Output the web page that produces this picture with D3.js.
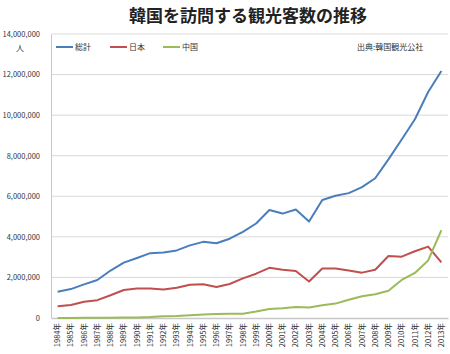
<!DOCTYPE html>
<html>
<head>
<meta charset="utf-8">
<script src="https://cdn.jsdelivr.net/npm/d3@7"></script>
<style>
  body { margin: 0; background: #fff; }
  text { font-family: "Noto Sans CJK JP", "Noto Sans", sans-serif; }
</style>
</head>
<body>
<svg id="chart"></svg>
<script>
let w = 450;
let h = 354;

const years = d3.range(1984, 2014).map(y => y + '年');
const seriesNames = ['総計', '日本', '中国'];
const seriesColors = ['#4a7ebb', '#c0504d', '#9bbb59'];

const total = [1297318, 1426045, 1659972, 1874856, 2340462, 2728054, 2958839, 3196340, 3231081, 3331226,
    3580024, 3753197, 3683779, 3908140, 4250216, 4659785, 5321792, 5147204, 5347468, 4752762,
    5818138, 6022752, 6155046, 6448240, 6890841, 7817533, 8797658, 9794796, 11140028, 12175550];
const japan = [580000, 640000, 800000, 880000, 1120000, 1380000, 1460000, 1455000, 1400000, 1490000,
    1640000, 1667000, 1526000, 1676000, 1954000, 2184000, 2472000, 2377000, 2321000, 1802000,
    2443000, 2440000, 2339000, 2236000, 2378000, 3053000, 3023000, 3289000, 3519000, 2747000];
const china = [5000, 6000, 8000, 10000, 15000, 20000, 30000, 50000, 87000, 100000,
    140000, 178000, 199000, 214000, 211000, 316000, 443000, 483000, 539000, 513000,
    627000, 710000, 897000, 1069000, 1168000, 1342000, 1876000, 2220000, 2837000, 4327000];

const yTicks = d3.range(0, 14000001, 2000000);

const svg = d3.select('#chart')
    .attr('width', w)
    .attr('height', h);

const xScale = d3.scaleBand()
    .domain(years)
    .range([51, 448]);

const yScale = d3.scaleLinear()
    .domain([0, 14000000])
    .range([318, 34]);

// gridlines
svg.append('g')
    .selectAll('line')
    .data(yTicks.slice(1))
    .join('line')
    .attr('x1', 51)
    .attr('x2', 448)
    .attr('y1', d => yScale(d))
    .attr('y2', d => yScale(d))
    .attr('stroke', '#d9d9d9')
    .attr('stroke-width', 1);

// y axis
const yAxis = d3.axisLeft(yScale)
    .tickValues(yTicks)
    .tickFormat(d3.format(','))
    .tickSize(0)
    .tickPadding(11);

const yAxisGroup = svg.append('g')
    .attr('transform', 'translate(51,0)')
    .call(yAxis);
yAxisGroup.select('.domain').attr('stroke', '#c8c8c8');
yAxisGroup.selectAll('text')
    .attr('font-size', 7.5)
    .attr('fill', '#333');

// x axis
const xAxis = d3.axisBottom(xScale).tickSize(0).tickPadding(0);
const xAxisGroup = svg.append('g')
    .attr('transform', 'translate(0,318)')
    .call(xAxis);
xAxisGroup.select('.domain').attr('stroke', '#c8c8c8').attr('stroke-width', 1.5);
xAxisGroup.selectAll('text')
    .attr('font-size', 7.5)
    .attr('fill', '#333')
    .attr('transform', 'rotate(-90)')
    .attr('text-anchor', 'end')
    .attr('x', -5)
    .attr('y', 0)
    .attr('dy', '0.35em');

// lines
const seriesData = [total, japan, china];
const line = d3.line()
    .x((d, i) => xScale(years[i]) + xScale.bandwidth() / 2)
    .y(d => yScale(d));

svg.append('g')
    .selectAll('path')
    .data(seriesData)
    .join('path')
    .attr('d', line)
    .attr('fill', 'none')
    .attr('stroke', (d, i) => seriesColors[i])
    .attr('stroke-width', 2)
    .attr('stroke-linejoin', 'round');

// title
svg.append('text')
    .attr('x', 248)
    .attr('y', 22)
    .attr('text-anchor', 'middle')
    .attr('font-size', 17)
    .attr('font-weight', 'bold')
    .attr('fill', '#222')
    .text('韓国を訪問する観光客数の推移');

// unit
svg.append('text')
    .attr('x', 20)
    .attr('y', 51)
    .attr('text-anchor', 'middle')
    .attr('font-size', 8)
    .attr('fill', '#333')
    .text('人');

// legend
const legend = svg.append('g');
const legendX = [56, 110, 163];
seriesNames.forEach((name, i) => {
    legend.append('line')
        .attr('x1', legendX[i])
        .attr('x2', legendX[i] + 17)
        .attr('y1', 47)
        .attr('y2', 47)
        .attr('stroke', seriesColors[i])
        .attr('stroke-width', 2);
    legend.append('text')
        .attr('x', legendX[i] + 19)
        .attr('y', 50)
        .attr('font-size', 8)
        .attr('fill', '#333')
        .text(name);
});

svg.append('text')
    .attr('x', 357)
    .attr('y', 50)
    .attr('font-size', 8)
    .attr('fill', '#333')
    .text('出典:韓国観光公社');
</script>
</body>
</html>
